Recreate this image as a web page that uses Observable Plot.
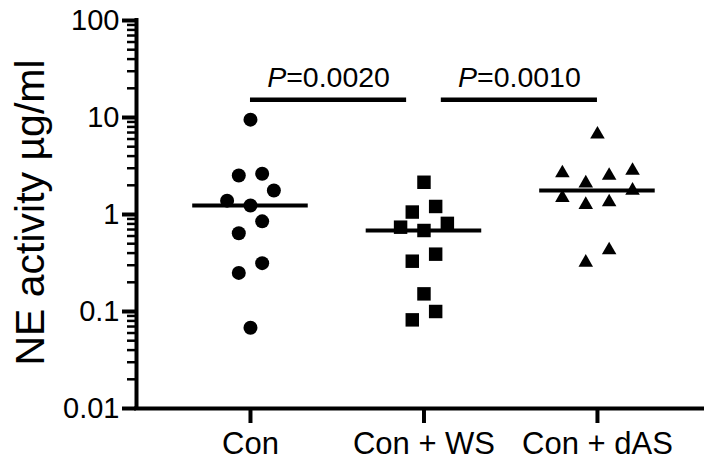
<!DOCTYPE html>
<html>
<head>
<meta charset="utf-8">
<script src="https://cdn.jsdelivr.net/npm/d3@7"></script>
<script src="https://cdn.jsdelivr.net/npm/@observablehq/plot@0.6"></script>
<style>
  html, body { margin: 0; padding: 0; background: #fff; }
  #chart svg { display: block; }
</style>
</head>
<body>
<div id="chart"></div>
<script>
// ---- data ----
const groups = ["Con", "Con + WS", "Con + dAS"];
const con    = [9.5, 2.63, 2.52, 1.77, 1.39, 1.24, 0.85, 0.64, 0.315, 0.25, 0.068];
const conWS  = [2.15, 1.21, 1.06, 0.81, 0.74, 0.684, 0.39, 0.33, 0.152, 0.10, 0.082];
const conDAS = [6.7, 2.84, 2.67, 2.52, 2.10, 1.77, 1.49, 1.34, 1.26, 0.43, 0.32];
const yTickValues = [0.01, 0.1, 1, 10, 100];
const yTickLabels = ["0.01", "0.1", "1", "10", "100"];
const comparisonFrom = [0, 1];
const comparisonTo = [1, 2];
const pLabels = ["P=0.0020", "P=0.0010"];
const yLabel = "NE activity \u00b5g/ml";

// ---- layout helpers (GraphPad-like row scatter) ----
const ROW = 0.165;   // row height in decades
const SLOT = 0.0674; // horizontal slot in category units
function scatterRows(values, gi) {
  const pts = values.map(v => ({v, g: gi})).sort((a, b) => b.v - a.v);
  const rows = [];
  for (const p of pts) {
    const row = rows[rows.length - 1];
    if (row && Math.log10(row[0].v) - Math.log10(p.v) < ROW) row.push(p);
    else rows.push([p]);
  }
  for (const row of rows) {
    const n = row.length;
    const order = [];
    for (let s = n - 1; s > 0; s -= 2) { order.push(s, -s); }
    if (n % 2 === 1) order.push(0);
    row.forEach((p, k) => { p.x = gi + order[k] * SLOT; });
  }
  return pts;
}
const conPts = scatterRows(con, 0);
const wsPts = scatterRows(conWS, 1);
const dasPts = scatterRows(conDAS, 2);
const medians = [con, conWS, conDAS].map((vals, g) => ({g, m: d3.median(vals)}));

const yDomain = [0.01, 100];
const xDomain = [-0.657, 2.617];
const bracketY = d3.max([...con, ...conWS, ...conDAS]) * 1.6;
const inset = 0.1;
const brackets = pLabels.map((label, i) => ({
  label,
  x1: comparisonFrom[i] + (comparisonFrom[i] === 1 ? inset : 0),
  x2: comparisonTo[i] - (comparisonTo[i] === 1 ? inset : 0)
}));

const minorTicks = [];
for (let k = -2; k <= 1; k++) for (let m = 2; m <= 9; m++) minorTicks.push(+(m * Math.pow(10, k)).toPrecision(3));

const font = "'Liberation Sans', Arial, Helvetica, sans-serif";

const chart = Plot.plot({
  width: 704,
  height: 462,
  marginLeft: 136,
  marginRight: 0,
  marginTop: 20,
  marginBottom: 54,
  style: {fontFamily: font, background: "#fff", color: "#000"},
  x: {type: "linear", domain: xDomain, label: null},
  y: {type: "log", domain: yDomain, label: null},
  marks: [
    Plot.axisY({ticks: minorTicks, tickFormat: () => "", tickSize: 9, strokeWidth: 2.5, label: null}),
    Plot.axisY({ticks: yTickValues, tickFormat: d => yTickLabels[yTickValues.indexOf(d)], tickSize: 14, tickPadding: 3, strokeWidth: 4, fontSize: 29, label: null}),
    Plot.axisX({ticks: [0, 1, 2], tickFormat: d => groups[d], tickSize: 15, tickPadding: 8, strokeWidth: 4, fontSize: 31, label: null}),
    Plot.ruleY([yDomain[0]], {strokeWidth: 4, strokeLinecap: "square"}),
    Plot.ruleX([xDomain[0]], {strokeWidth: 4, strokeLinecap: "square"}),
    Plot.ruleY(medians, {y: "m", x1: d => d.g - 0.333, x2: d => d.g + 0.333, strokeWidth: 4}),
    Plot.ruleY(brackets, {y: () => bracketY, x1: "x1", x2: "x2", strokeWidth: 4.5}),
    Plot.text(brackets, {x: d => (d.x1 + d.x2) / 2, y: () => bracketY, text: "label", dy: -22, fontSize: 28.5}),
    Plot.dot(conPts, {x: "x", y: "v", symbol: "circle", r: 7, fill: "#000", stroke: null}),
    Plot.dot(wsPts, {x: "x", y: "v", symbol: "square", r: 7.6, fill: "#000", stroke: null}),
    Plot.dot(dasPts, {x: "x", y: "v", symbol: "triangle", r: 5.4, fill: "#000", stroke: null}),
    Plot.text([yLabel], {frameAnchor: "left", textAnchor: "middle", rotate: -90, dx: -106, dy: -2, fontSize: 41})
  ]
});

// italic "P" in the P-value labels
d3.select(chart).selectAll("text").each(function () {
  const t = this.textContent;
  if (t.startsWith("P=") && this.children.length === 0) {
    this.textContent = "";
    const s = d3.select(this);
    s.append("tspan").attr("font-style", "italic").text("P");
    s.append("tspan").text(t.slice(1));
  }
});

document.getElementById("chart").appendChild(chart);
</script>
</body>
</html>
